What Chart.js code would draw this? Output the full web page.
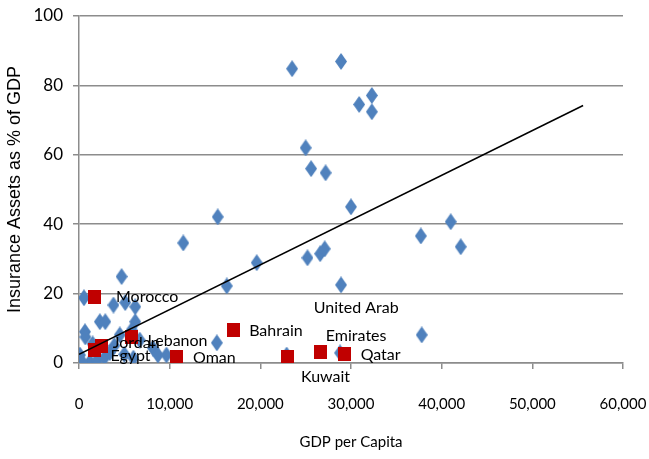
<!DOCTYPE html>
<html>
<head>
<meta charset="utf-8">
<script src="https://cdn.jsdelivr.net/npm/chart.js@4.4.1/dist/chart.umd.min.js"></script>
<style>
  html, body { margin: 0; padding: 0; background: #fff; }
  #wrap { width: 649px; height: 459px; }
</style>
</head>
<body>
<div id="wrap"><canvas id="myChart" width="649" height="459"></canvas></div>
<script>
// other countries (blue diamonds): GDP per capita and insurance assets as % of GDP
const otrosGdp = [23500, 28900, 30900, 32300, 32300, 25000, 25600, 27200, 30000, 15300,
  11500, 37700, 41000, 42100, 19600, 16300, 25200, 26600, 27100, 28900,
  37800, 4700, 550, 3800, 5100, 6200, 2300, 2900, 6200, 660,
  5800, 4500, 100, 1200, 300, 2000, 2800, 3400, 3900, 1500,
  6000, 8150, 8700, 9650, 15200, 22900, 28800, 6700, 5000, 700];
const otrosSeguros = [84.8, 86.9, 74.5, 77.1, 72.4, 62.0, 56.0, 54.8, 45.0, 42.1,
  34.6, 36.6, 40.7, 33.5, 28.9, 22.2, 30.3, 31.5, 32.9, 22.5,
  8.1, 24.9, 18.8, 16.7, 17.4, 16.2, 11.9, 11.9, 11.9, 9.0,
  9.5, 8.1, 2.3, 0.3, 0.5, 0.8, 1.5, 3.0, 5.0, 5.5,
  1.4, 4.3, 2.3, 2.3, 5.8, 2.3, 2.9, 6.6, 2.5, 7.5];

// MENA countries (red squares)
const paises = ["Morocco", "Jordan", "Egypt", "Lebanon", "Oman", "Bahrain", "Kuwait", "United Arab Emirates", "Qatar"];
const menaGdp = [1760, 2500, 1700, 5800, 10700, 17000, 23000, 26600, 29300];
const menaSeguros = [19.1, 4.9, 3.8, 7.6, 1.7, 9.5, 1.7, 3.2, 2.6];

// trend line end points
const tendenciaGdp = [0, 55600];
const tendenciaSeguros = [2.5, 74.2];

const xTicks = [0, 10000, 20000, 30000, 40000, 50000, 60000];
const yTicks = [0, 20, 40, 60, 80, 100];

const fuente = "Lato, sans-serif";

function hacerDiamante() {
  const c = document.createElement("canvas");
  c.width = 12; c.height = 17;
  const g = c.getContext("2d");
  g.fillStyle = "#4F81BD";
  g.beginPath();
  g.moveTo(6, 0); g.lineTo(12, 8.5); g.lineTo(6, 17); g.lineTo(0, 8.5);
  g.closePath(); g.fill();
  return c;
}
function hacerCuadro() {
  const c = document.createElement("canvas");
  c.width = 13; c.height = 14;
  const g = c.getContext("2d");
  g.fillStyle = "#C00000";
  g.fillRect(0, 0, 13, 14);
  return c;
}

// label placement: [dx, dy, align, lines]
const etiquetaPos = [
  [21, 0, "left", ["Morocco"]],
  [11, -3, "left", ["Jordan"]],
  [16, 6, "left", ["Egypt"]],
  [16, 4, "left", ["Lebanon"]],
  [17, 1, "left", ["Oman"]],
  [16, 1, "left", ["Bahrain"]],
  [38, 20, "center", ["Kuwait"]],
  [36, -44, "center", ["United Arab", "Emirates"]],
  [16, 1, "left", ["Qatar"]]
];

const etiquetas = {
  id: "etiquetas",
  afterDatasetsDraw(chart) {
    const meta = chart.getDatasetMeta(1);
    const ctx = chart.ctx;
    ctx.save();
    ctx.font = "16px " + fuente;
    ctx.fillStyle = "#000";
    ctx.textBaseline = "middle";
    meta.data.forEach((p, i) => {
      const [dx, dy, al, lineas] = etiquetaPos[i];
      ctx.textAlign = al;
      lineas.forEach((t, k) => {
        ctx.fillText(t, p.x + dx, p.y + dy + k * 28);
      });
    });
    ctx.restore();
  }
};

const ctx = document.getElementById("myChart");
const myChart = new Chart(ctx, {
  type: "scatter",
  data: {
    datasets: [
      {
        label: "Otros",
        data: otrosGdp.map((x, i) => ({ x: x, y: otrosSeguros[i] })),
        pointStyle: hacerDiamante(),
        order: 3
      },
      {
        label: "MENA",
        data: menaGdp.map((x, i) => ({ x: x, y: menaSeguros[i] })),
        pointStyle: hacerCuadro(),
        order: 2
      },
      {
        label: "Tendencia",
        type: "line",
        data: tendenciaGdp.map((x, i) => ({ x: x, y: tendenciaSeguros[i] })),
        borderColor: "#000",
        borderWidth: 1.5,
        pointRadius: 0,
        fill: false,
        order: 1
      }
    ]
  },
  options: {
    responsive: false,
    animation: false,
    layout: { padding: { top: 16, right: 26, left: 0, bottom: 0 } },
    plugins: {
      legend: { display: false },
      tooltip: { enabled: false }
    },
    scales: {
      x: {
        type: "linear",
        min: 0,
        max: 60000,
        afterBuildTicks: (s) => { s.ticks = xTicks.map(v => ({ value: v })); },
        afterFit: (s) => { s.height = 96; s.paddingLeft = 0; s.paddingRight = 0; },
        grid: { drawOnChartArea: false, color: "#8c8c8c", lineWidth: 1.5, tickLength: 6 },
        border: { color: "#8c8c8c", width: 1.5 },
        ticks: {
          padding: 26,
          color: "#000",
          font: { family: fuente, size: 15 },
          callback: (v) => v.toLocaleString("en-US")
        },
        title: {
          display: true,
          text: "GDP per Capita",
          color: "#000",
          font: { family: fuente, size: 15 },
          padding: { top: 6, bottom: 8 }
        }
      },
      y: {
        min: 0,
        max: 100,
        afterBuildTicks: (s) => { s.ticks = yTicks.map(v => ({ value: v })); },
        afterFit: (s) => { s.width = 79; s.paddingTop = 0; s.paddingBottom = 0; },
        grid: { color: "#8c8c8c", lineWidth: 1.5, tickLength: 6 },
        border: { color: "#8c8c8c", width: 1.5 },
        ticks: {
          padding: 10,
          color: "#000",
          font: { family: fuente, size: 17 }
        },
        title: {
          display: true,
          text: "Insurance Assets as % of GDP",
          color: "#000",
          font: { family: "'Liberation Sans', Arial, sans-serif", size: 18 },
          padding: { bottom: 4 }
        }
      }
    }
  },
  plugins: [etiquetas]
});
</script>
</body>
</html>
